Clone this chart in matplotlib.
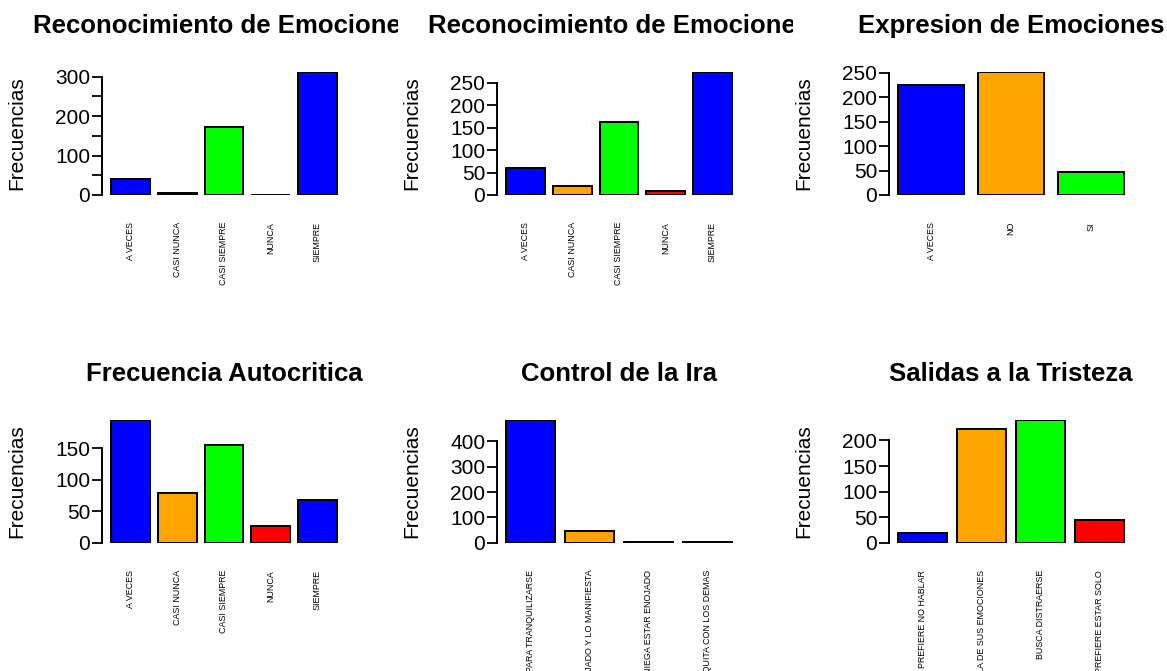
import numpy as np
import matplotlib
matplotlib.use("Agg")
import matplotlib.pyplot as plt
from matplotlib.transforms import Bbox, TransformedBbox

plt.rcParams['font.family'] = ['Liberation Sans', 'DejaVu Sans']

# ---- data ----
cats_frec = ["A VECES", "CASI NUNCA", "CASI SIEMPRE", "NUNCA", "SIEMPRE"]
reconoc_1 = [40, 6, 172, 1, 313]
reconoc_2 = [60, 21, 162, 8, 275]

cats_expr = ["A VECES", "NO", "SI"]
expresion = [226, 253, 47]

autocritica = [196, 79, 156, 27, 68]

cats_ira = ["RESPIRA PARA TRANQUILIZARSE", "SE SIENTE ENOJADO Y LO MANIFIESTA",
            "NIEGA ESTAR ENOJADO", "SE DESQUITA CON LOS DEMAS"]
ira = [486, 46, 2, 1]

cats_trist = ["PREFIERE NO HABLAR", "HABLA DE SUS EMOCIONES",
              "BUSCA DISTRAERSE", "PREFIERE ESTAR SOLO"]
tristeza = [19, 222, 241, 45]

titles = ["Reconocimiento de Emociones", "Reconocimiento de Emociones",
          "Expresion de Emociones", "Frecuencia Autocritica",
          "Control de la Ira", "Salidas a la Tristeza"]
panels = [(cats_frec, reconoc_1), (cats_frec, reconoc_2), (cats_expr, expresion),
          (cats_frec, autocritica), (cats_ira, ira), (cats_trist, tristeza)]
tick_steps = [50, 50, 50, 50, 100, 50]
label_every = [2, 1, 1, 1, 1, 1]   # R drops labels that would overlap

colors = ["#0000FF", "#FFA500", "#00FF00", "#FF0000"]

W, H = 1167, 671
fig = plt.figure(figsize=(W / 100, H / 100), dpi=100)

lefts = [102, 497, 889]          # plot region left edges (px)
rows = [(71.5, 195.0), (419.5, 542.7)]  # plot region top/bottom (px)
clip_right = [398, 793, W]       # figure region right edges, titles clipped there
plot_w = 244

for k, (cats, vals) in enumerate(panels):
    r, c = divmod(k, 3)
    top, bot = rows[r]
    ax = fig.add_axes([lefts[c] / W, (H - bot) / H, plot_w / W, (bot - top) / H])

    n = len(vals)
    x = 0.7 + 1.2 * np.arange(n)
    ax.bar(x, vals, width=1.0, color=[colors[i % 4] for i in range(n)],
           edgecolor="black", linewidth=1.4)
    span = 1.2 * n - 0.2
    ax.set_xlim(0.2 - 0.04 * span, 1.2 * n + 0.04 * span)
    vmax = max(vals)
    ax.set_ylim(0, vmax)

    step = tick_steps[k]
    ticks = np.arange(0, vmax + 1e-9, step)
    ax.set_yticks(ticks)
    ax.set_yticklabels([f"{int(t)}" if (i % label_every[k] == 0) else ""
                        for i, t in enumerate(ticks)])
    ax.set_xticks(x)
    ax.set_xticklabels(cats, rotation=90, fontsize=6.4)

    for s in ["top", "right", "bottom"]:
        ax.spines[s].set_visible(False)
    ax.spines["left"].set_bounds(0, ticks[-1])
    ax.spines["left"].set_linewidth(1.4)
    ax.tick_params(axis="y", length=7, width=1.3, pad=1.5, labelsize=15)
    ax.tick_params(axis="x", length=0, pad=19.5)

    ax.set_ylabel("Frecuencias", fontsize=15)
    ax.yaxis.set_label_coords(-76 / plot_w, 0.5)

    t = ax.text(0.5, 1 + 38.5 / (bot - top), titles[k], transform=ax.transAxes,
                ha="center", va="baseline", fontsize=18.5, fontweight="bold")
    t.set_clip_box(TransformedBbox(Bbox.from_extents(0, 0, clip_right[c] / W, 1),
                                   fig.transFigure))
    t.set_clip_on(True)

fig.savefig("out.png", dpi=100)
